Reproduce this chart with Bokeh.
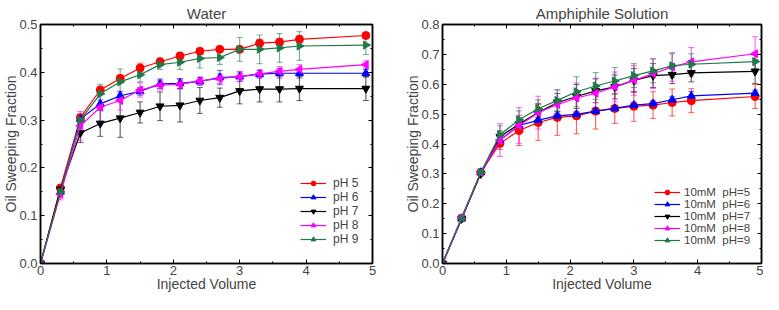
import numpy as np
from bokeh.plotting import figure
from bokeh.models import (ColumnDataSource, Whisker, TeeHead, LinearAxis, Legend,
                          LegendItem, Range1d, FixedTicker, NumeralTickFormatter)
from bokeh.layouts import row
from bokeh.embed import file_html
from bokeh.resources import INLINE

# ---------------- data ----------------
injected = [0, 0.3, 0.6, 0.9, 1.2, 1.5, 1.8, 2.1, 2.4, 2.7, 3.0, 3.3, 3.6, 3.9, 4.9]

water_labels = ["pH 5", "pH 6", "pH 7", "pH 8", "pH 9"]
water_ph5 = [0, 0.158, 0.305, 0.363, 0.387, 0.409, 0.422, 0.434, 0.444, 0.448, 0.448, 0.461, 0.463, 0.469, 0.477]
water_ph5_err = [0, 0.005, 0.008, 0.008, 0.008, 0.010, 0.008, 0.008, 0.006, 0.004, 0.004, 0.008, 0.008, 0.008, 0.005]
water_ph6 = [0, 0.150, 0.302, 0.334, 0.351, 0.360, 0.376, 0.377, 0.381, 0.389, 0.391, 0.396, 0.398, 0.398, 0.398]
water_ph6_err = [0, 0.005, 0.008, 0.008, 0.008, 0.008, 0.010, 0.010, 0.008, 0.015, 0.010, 0.008, 0.010, 0.010, 0.008]
water_ph7 = [0, 0.155, 0.273, 0.293, 0.304, 0.316, 0.329, 0.331, 0.341, 0.347, 0.361, 0.365, 0.365, 0.366, 0.366]
water_ph7_err = [0, 0.005, 0.020, 0.027, 0.040, 0.022, 0.030, 0.035, 0.027, 0.020, 0.027, 0.027, 0.027, 0.025, 0.025]
water_ph8 = [0, 0.145, 0.288, 0.327, 0.341, 0.363, 0.373, 0.375, 0.382, 0.387, 0.391, 0.397, 0.402, 0.406, 0.416]
water_ph8_err = [0, 0.012, 0.030, 0.030, 0.020, 0.015, 0.010, 0.010, 0.008, 0.010, 0.010, 0.008, 0.010, 0.010, 0.008]
water_ph9 = [0, 0.150, 0.300, 0.355, 0.380, 0.395, 0.416, 0.421, 0.429, 0.431, 0.448, 0.448, 0.451, 0.455, 0.457]
water_ph9_err = [0, 0.005, 0.010, 0.020, 0.027, 0.015, 0.010, 0.015, 0.020, 0.015, 0.025, 0.030, 0.030, 0.030, 0.020]

amph_labels = ["10mM  pH=5", "10mM  pH=6", "10mM  pH=7", "10mM  pH=8", "10mM  pH=9"]
amph_ph5 = [0, 0.152, 0.305, 0.402, 0.445, 0.472, 0.489, 0.494, 0.510, 0.519, 0.526, 0.530, 0.539, 0.545, 0.559]
amph_ph5_err = [0, 0.005, 0.005, 0.020, 0.050, 0.060, 0.060, 0.060, 0.060, 0.050, 0.050, 0.045, 0.045, 0.040, 0.040]
amph_ph6 = [0, 0.150, 0.305, 0.413, 0.462, 0.480, 0.494, 0.499, 0.510, 0.519, 0.530, 0.535, 0.548, 0.561, 0.570]
amph_ph6_err = [0, 0.005, 0.005, 0.010, 0.010, 0.010, 0.010, 0.010, 0.010, 0.010, 0.010, 0.010, 0.010, 0.015, 0.010]
amph_ph7 = [0, 0.150, 0.300, 0.424, 0.467, 0.505, 0.539, 0.559, 0.578, 0.591, 0.613, 0.629, 0.632, 0.638, 0.643]
amph_ph7_err = [0, 0.005, 0.005, 0.020, 0.020, 0.030, 0.030, 0.040, 0.040, 0.040, 0.040, 0.040, 0.030, 0.030, 0.040]
amph_ph8 = [0, 0.155, 0.305, 0.413, 0.462, 0.505, 0.532, 0.554, 0.570, 0.591, 0.613, 0.635, 0.658, 0.675, 0.702]
amph_ph8_err = [0, 0.005, 0.005, 0.055, 0.060, 0.055, 0.050, 0.050, 0.050, 0.050, 0.050, 0.050, 0.048, 0.048, 0.057]
amph_ph9 = [0, 0.150, 0.305, 0.431, 0.481, 0.518, 0.546, 0.575, 0.594, 0.611, 0.629, 0.645, 0.662, 0.667, 0.676]
amph_ph9_err = [0, 0.005, 0.005, 0.030, 0.030, 0.030, 0.035, 0.050, 0.045, 0.045, 0.040, 0.040, 0.040, 0.035, 0.025]

colors = ["#ff0000", "#0000ff", "#000000", "#ff00ff", "#1f7a48"]
markers = ["circle", "triangle", "inverted_triangle", "triangle", "triangle"]
angles = [0, 0, 0, np.pi / 2, -np.pi / 2]

FONT = "Liberation Sans"


def make_panel(title, ymax, yticks, series, errors, labels, width, min_left,
               min_right, legend_loc, leg_standoff, leg_font):
    p = figure(width=width, height=294, output_backend="svg", toolbar_location=None,
               x_range=Range1d(0, 5), y_range=Range1d(0, ymax),
               min_border_left=min_left, min_border_right=min_right, min_border_top=1,
               min_border_bottom=0)
    p.title.text = title
    p.title.align = "center"
    p.title.text_font = FONT
    p.title.text_font_size = "15px"
    p.title.text_font_style = "normal"
    p.title.standoff = 5
    p.xgrid.visible = False
    p.ygrid.visible = False
    p.outline_line_color = "black"
    p.outline_line_width = 1.5

    xt = FixedTicker(ticks=[0, 1, 2, 3, 4, 5], minor_ticks=[0.5, 1.5, 2.5, 3.5, 4.5])
    ymin = [round(v + 0.05, 2) for v in yticks[:-1]]
    yt = FixedTicker(ticks=yticks, minor_ticks=ymin)

    for ax in (p.xaxis[0], p.yaxis[0]):
        ax.major_tick_in = 4
        ax.major_tick_out = 0
        ax.minor_tick_in = 2
        ax.minor_tick_out = 0
        ax.axis_line_width = 1.5
        ax.major_label_text_font = FONT
        ax.major_label_text_font_size = "13px"
        ax.axis_label_text_font = FONT
        ax.axis_label_text_font_size = "14px"
        ax.axis_label_text_font_style = "normal"
    p.xaxis[0].major_label_standoff = 2
    p.xaxis[0].axis_label_standoff = -2
    p.yaxis[0].major_label_standoff = 3
    p.yaxis[0].axis_label_standoff = -3
    p.xaxis[0].ticker = xt
    p.yaxis[0].ticker = yt
    p.yaxis[0].formatter = NumeralTickFormatter(format="0.0")
    p.xaxis[0].axis_label = "Injected Volume"
    p.yaxis[0].axis_label = "Oil Sweeping Fraction"

    for loc, tk in (("above", xt), ("right", yt)):
        ax = LinearAxis(ticker=tk, major_label_text_color=None,
                        major_label_text_font_size="1px",
                        major_label_standoff=0, major_tick_in=4, major_tick_out=0,
                        minor_tick_in=2, minor_tick_out=0, axis_line_width=1.5)
        p.add_layout(ax, loc)

    items = []
    for i, (ys, es, lab) in enumerate(zip(series, errors, labels)):
        src = ColumnDataSource(dict(
            x=injected, y=ys,
            lower=[a - b for a, b in zip(ys, es)],
            upper=[a + b for a, b in zip(ys, es)]))
        w = Whisker(source=src, base="x", lower="lower", upper="upper",
                    line_color=colors[i], line_alpha=0.6, line_width=1.2,
                    upper_head=TeeHead(size=6, line_color=colors[i], line_alpha=0.6),
                    lower_head=TeeHead(size=6, line_color=colors[i], line_alpha=0.6))
        p.add_layout(w)
        ln = p.line("x", "y", source=src, line_color=colors[i], line_width=1.2)
        sc = p.scatter("x", "y", source=src, marker=markers[i], angle=angles[i],
                       size=8, fill_color=colors[i], line_color=colors[i])
        items.append(LegendItem(label=lab, renderers=[ln, sc]))

    leg = Legend(items=items, location=legend_loc, background_fill_alpha=0,
                 border_line_alpha=0, label_text_font=FONT, label_text_font_size=leg_font,
                 glyph_width=26, glyph_height=12, label_height=12, spacing=0,
                 padding=0, margin=0, label_standoff=leg_standoff)
    p.add_layout(leg, "center")
    return p


left = make_panel("Water", 0.5, [0.0, 0.1, 0.2, 0.3, 0.4, 0.5],
                  [water_ph5, water_ph6, water_ph7, water_ph8, water_ph9],
                  [water_ph5_err, water_ph6_err, water_ph7_err, water_ph8_err, water_ph9_err],
                  water_labels, 382, 40, 10, (260, 17), 7, "12px")
right = make_panel("Amphiphile Solution", 0.8, [0.0, 0.1, 0.2, 0.3, 0.4, 0.5, 0.6, 0.7, 0.8],
                   [amph_ph5, amph_ph6, amph_ph7, amph_ph8, amph_ph9],
                   [amph_ph5_err, amph_ph6_err, amph_ph7_err, amph_ph8_err, amph_ph9_err],
                   amph_labels, 381, 60, 2, (212, 17), 4, "11.5px")

layout = row(left, right)
open("out.html", "w").write(file_html(layout, INLINE))
